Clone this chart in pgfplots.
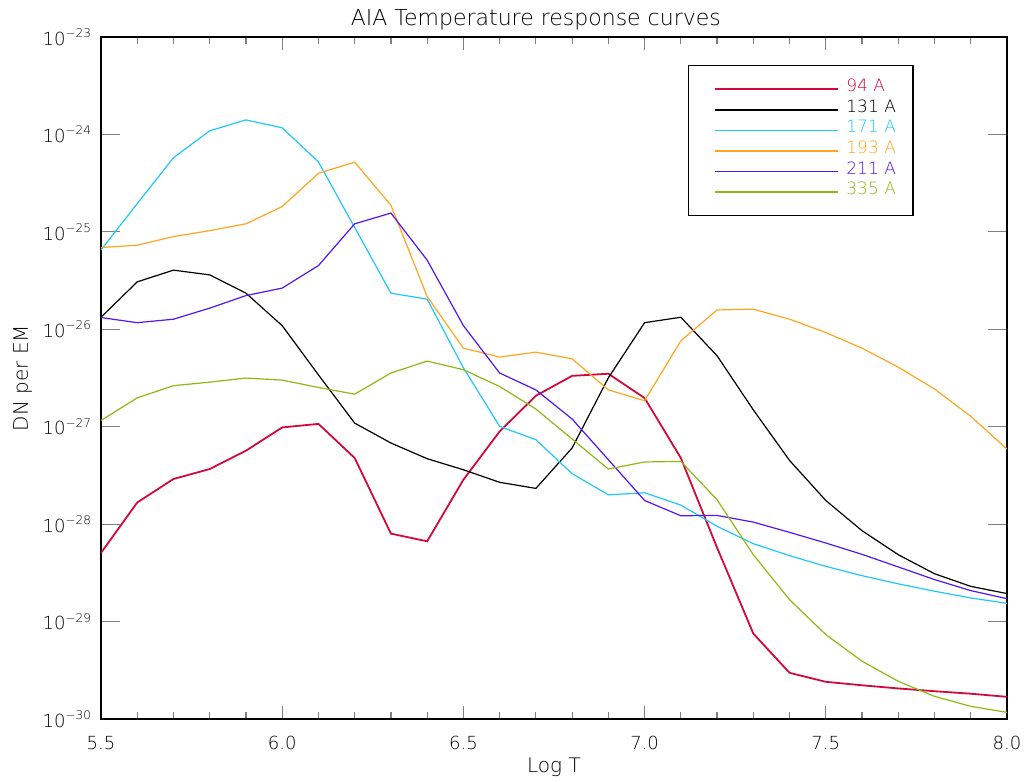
\documentclass[border=0pt]{standalone}
\usepackage{fontspec}
\setmainfont{DejaVu Sans ExtraLight}
\usepackage{pgfplots}
\usepackage{pgfplotstable}
\usetikzlibrary{calc}
\pgfplotsset{compat=1.18}

\definecolor{c94}{RGB}{210,10,60}
\definecolor{c131}{RGB}{0,0,0}
\definecolor{c171}{RGB}{30,200,250}
\definecolor{c193}{RGB}{255,165,30}
\definecolor{c211}{RGB}{85,20,240}
\definecolor{c335}{RGB}{140,185,20}

% AIA temperature response (DN per unit emission measure) versus log T
\pgfplotstableread{
logT  a94      a131     a171     a193     a211     a335
5.5   5.07e-29 1.33e-26 6.53e-26 6.90e-26 1.32e-26 1.16e-27
5.6   1.67e-28 3.07e-26 1.95e-25 7.31e-26 1.17e-26 1.98e-27
5.7   2.91e-28 4.05e-26 5.78e-25 8.95e-26 1.27e-26 2.64e-27
5.8   3.68e-28 3.62e-26 1.09e-24 1.03e-25 1.65e-26 2.87e-27
5.9   5.68e-28 2.35e-26 1.41e-24 1.21e-25 2.22e-26 3.16e-27
6.0   9.84e-28 1.09e-26 1.17e-24 1.82e-25 2.65e-26 3.01e-27
6.1   1.07e-27 3.41e-27 5.22e-25 4.00e-25 4.51e-26 2.53e-27
6.2   4.78e-28 1.09e-27 1.11e-25 5.19e-25 1.21e-25 2.16e-27
6.3   8.00e-29 6.81e-28 2.35e-26 1.88e-25 1.56e-25 3.56e-27
6.4   6.67e-29 4.70e-28 2.04e-26 2.17e-26 5.13e-26 4.72e-27
6.5   2.86e-28 3.62e-28 4.03e-27 6.41e-27 1.09e-26 3.85e-27
6.6   8.95e-28 2.69e-28 1.01e-27 5.19e-27 3.56e-27 2.59e-27
6.7   2.08e-27 2.33e-28 7.36e-28 5.83e-27 2.39e-27 1.52e-27
6.8   3.33e-27 6.05e-28 3.30e-28 4.98e-27 1.20e-27 7.48e-28
6.9   3.50e-27 3.18e-27 2.00e-28 2.39e-27 4.59e-28 3.68e-28
7.0   1.97e-27 1.17e-26 2.10e-28 1.85e-27 1.75e-28 4.35e-28
7.1   4.78e-28 1.33e-26 1.57e-28 7.62e-27 1.22e-28 4.41e-28
7.2   5.74e-29 5.35e-27 9.51e-29 1.58e-26 1.23e-28 1.78e-28
7.3   7.53e-30 1.49e-27 6.31e-29 1.61e-26 1.05e-28 4.86e-29
7.4   2.98e-30 4.51e-28 4.75e-29 1.27e-26 8.24e-29 1.68e-29
7.5   2.41e-30 1.75e-28 3.69e-29 9.27e-27 6.41e-29 7.36e-30
7.6   2.22e-30 8.57e-29 2.96e-29 6.41e-27 4.90e-29 3.92e-30
7.7   2.06e-30 4.86e-29 2.44e-29 4.09e-27 3.64e-29 2.44e-30
7.8   1.93e-30 3.10e-29 2.05e-29 2.44e-27 2.70e-29 1.71e-30
7.9   1.82e-30 2.30e-29 1.75e-29 1.28e-27 2.08e-29 1.35e-30
8.0   1.69e-30 1.94e-29 1.54e-29 5.90e-28 1.72e-29 1.17e-30
}\aiaresp

\begin{document}
\begin{tikzpicture}
\useasboundingbox (-50.5pt,-31.5pt) rectangle (464.5pt,359.5pt);
\begin{axis}[
  name=resp,
  scale only axis,
  width=453pt, height=341pt,
  xmin=5.5, xmax=8.0,
  ymode=log, ymin=1e-30, ymax=1e-23,
  xtick={5.5,6.0,6.5,7.0,7.5,8.0},
  xticklabels={5.5,6.0,6.5,7.0,7.5,8.0},
  minor x tick num=4,
  ytick={1e-30,1e-29,1e-28,1e-27,1e-26,1e-25,1e-24,1e-23},
  yticklabels={10\textsuperscript{−30},10\textsuperscript{−29},10\textsuperscript{−28},10\textsuperscript{−27},10\textsuperscript{−26},10\textsuperscript{−25},10\textsuperscript{−24},10\textsuperscript{−23}},
  yminorticks=false,
  tick align=inside,
  xtick style={/pgfplots/major tick length=6.5pt,/pgfplots/minor tick length=3.5pt,line width=0.6pt},
  ytick style={/pgfplots/major tick length=9.5pt,line width=0.6pt},
  axis line style={line width=0.7pt},
  tick label style={font=\fontsize{9}{10}\selectfont},
  xticklabel style={yshift=-5pt},
  yticklabel style={xshift=-1pt},
  xlabel={Log T},
  xlabel style={at={(0.5,0)}, anchor=base, yshift=-26.5pt, font=\fontsize{10}{12}\selectfont},
  legend style={at={(0.648,0.959)}, anchor=north west, draw=black, line width=0.7pt,
    inner xsep=8.5pt, inner ysep=7pt, row sep=0.8pt,
    font=\fontsize{8.5}{10}\selectfont,
    nodes={inner sep=0pt, text height=6pt, text depth=3.5pt},
    /tikz/every odd column/.append style={column sep=4pt}},
  legend cell align=left,
  legend image code/.code={\path (0pt,0pt); \draw[#1, line width=0.75pt] (4pt,0pt) -- (65.5pt,0pt);},
]
\addplot[c94,  line width=0.9pt] table[x=logT, y=a94]  {\aiaresp};
\addlegendentry{\textcolor{c94}{94 A}}
\addplot[c131, line width=0.6pt] table[x=logT, y=a131] {\aiaresp};
\addlegendentry{\textcolor{c131}{131 A}}
\addplot[c171, line width=0.6pt] table[x=logT, y=a171] {\aiaresp};
\addlegendentry{\textcolor{c171}{171 A}}
\addplot[c193, line width=0.6pt] table[x=logT, y=a193] {\aiaresp};
\addlegendentry{\textcolor{c193}{193 A}}
\addplot[c211, line width=0.6pt] table[x=logT, y=a211] {\aiaresp};
\addlegendentry{\textcolor{c211}{211 A}}
\addplot[c335, line width=0.6pt] table[x=logT, y=a335] {\aiaresp};
\addlegendentry{\textcolor{c335}{335 A}}
\end{axis}
% title and vertical axis label
\node[anchor=base, font=\fontsize{11}{13}\selectfont] at ($(resp.north west)!0.48!(resp.north east)+(0,5.5pt)$) {AIA Temperature response curves};
\node[rotate=90, anchor=base, font=\fontsize{10}{12}\selectfont] at ($(resp.west)+(-36.5pt,0)$) {DN per EM};
\end{tikzpicture}
\end{document}
